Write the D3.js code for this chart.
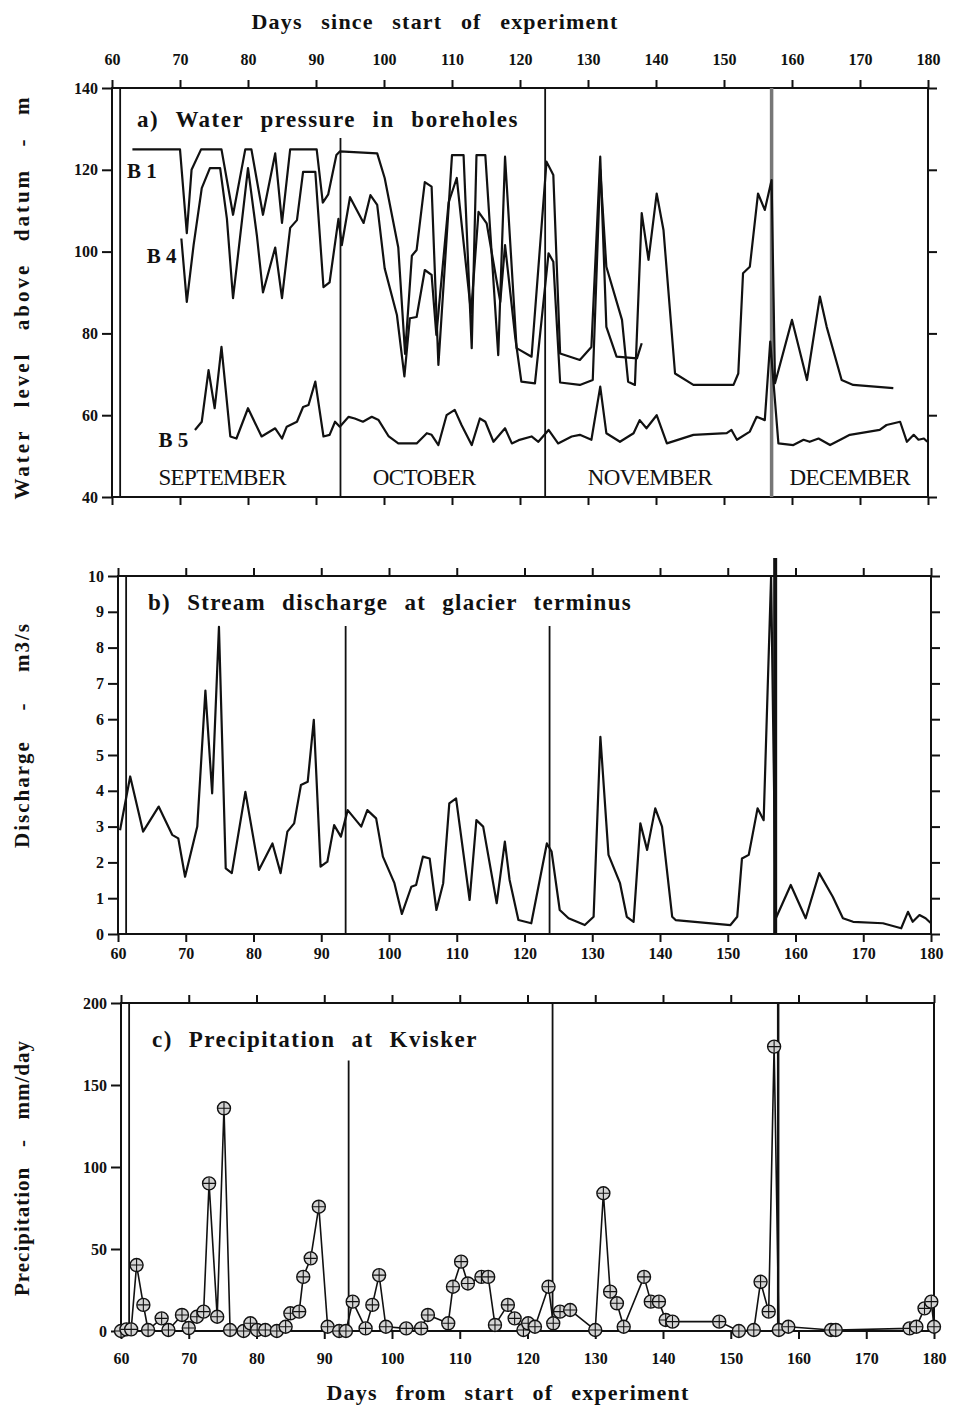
<!DOCTYPE html>
<html>
<head>
<meta charset="utf-8">
<script src="https://cdn.jsdelivr.net/npm/d3@7"></script>
<style>
  body { margin: 0; background: #fff; }
  svg text { font-family: "Liberation Serif", "Times New Roman", serif; fill: #111; }
</style>
</head>
<body>
<svg id="chart" width="955" height="1412"></svg>
<script>
// ---- data: [day, value] ----
const xTicks = [60, 70, 80, 90, 100, 110, 120, 130, 140, 150, 160, 170, 180];
const levelTicks = [40, 60, 80, 100, 120, 140];
const dischargeTicks = [0, 1, 2, 3, 4, 5, 6, 7, 8, 9, 10];
const precipTicks = [0, 50, 100, 150, 200];

const months = [["SEPTEMBER", 76.2], ["OCTOBER", 105.9], ["NOVEMBER", 139.1], ["DECEMBER", 168.5]];
// vertical event lines: day, top value in each panel (null = full height)
const eventDays = [61.2, 93.6, 123.7, 157];
const eventTopA = [null, 127.8, null, null];
const eventTopB = [null, 8.6, 8.6, 10.5];
const eventTopC = [null, 165, null, null];

const b1 = [[63,125],[70,125],[71,104.5],[71.7,120],[73.1,125],[76.1,125],[77.8,109],[79.6,125],[80.5,125],
  [82.2,109],[84,124],[85,107],[86.2,125],[90.1,125],[91,112],[91.8,114],[93,123.6],[93.5,124.5],[99,124],
  [100.1,118],[102.1,101],[103.1,75],[104.1,99],[104.8,100.4],[106,117],[107,115.9],[108,72.3],[110,123.6],
  [111.7,123.6],[112.9,76.4],[113.6,123.6],[114.9,123.6],[116.8,74.7],[117.8,123.2],[119.5,76.4],[121.7,74.3],
  [123.9,122],[124.9,118.7],[125.9,75.1],[128.8,73.5],[130.5,76.7],[131.8,123.2],[132.7,81.6],[134.2,74.3],
  [137.2,73.9],[137.9,77.6]];

const b4 = [[70.2,103.2],[71,87.7],[72,101.6],[73.2,115.5],[74.4,120.4],[75.9,120.4],[76.9,108],[77.8,88.6],
  [80,120.4],[81.3,104],[82.2,90],[84,101],[85,88.6],[86.2,105.8],[87.2,107.7],[88.1,119.5],[89.9,119.5],
  [91.1,91.3],[92,92.5],[93.3,108],[93.8,101.6],[95,113.3],[97,107],[98,113.8],[99,111.4],[100.1,95.9],
  [101.9,84.5],[103,69.5],[103.8,83.7],[104.8,84],[106,95.5],[107,94.3],[107.7,79.6],[109.5,112],[110.7,118],
  [112.8,85],[113.9,109.7],[115.1,106.9],[117.1,87.7],[117.8,101.6],[119.3,79],[120.2,68.2],[122.2,67.8],
  [124.2,99.6],[124.9,97.5],[125.9,68],[128.8,67.4],[130.7,68.6],[131.8,120],[132.7,96.3],[135,83.3],
  [135.9,68.2],[136.9,67.4],[137.9,109.4],[138.9,98],[140.1,114.2],[141.1,105.3],[142.8,70.2],[145.5,67.4],
  [151.4,67.4],[152.1,70.2],[152.8,94.7],[153.8,96.3],[155,114.2],[156,110.2],[157,117.5],[157.5,67.8],
  [160,83.3],[162.2,68.6],[164.1,89],[165.1,81.6],[167.3,68.6],[169,67.4],[174.9,66.6]];

const b5 = [[72.2,56.4],[73.2,58.4],[74.2,71],[75.1,61.7],[76.1,76.7],[77.4,54.8],[78.3,54.3],[80,61.7],
  [82,54.8],[84,56.8],[85,54.3],[85.7,57.2],[87.2,58.4],[88.1,62],[88.9,62.5],[89.9,68.2],[91.1,54.8],[92,55.2],
  [92.8,58.4],[93.5,57.2],[94.8,59.6],[95.7,59.2],[96.9,58.4],[98.2,59.6],[99.2,58.8],[100.7,54.8],[102.1,53.1],
  [104.8,53.1],[106.3,55.6],[107,55.2],[108,52.7],[109.2,60],[110.4,61.3],[111.4,57.6],[112.9,52.7],[114.1,59.2],
  [114.9,58.4],[116.1,53.5],[117.8,56.8],[118.8,53.1],[119.8,53.9],[121.7,54.8],[122.7,53.5],[124.2,56.4],
  [125.6,53.1],[127.6,54.8],[128.8,55.2],[130.5,54],[131.8,67],[132.7,55.6],[134.7,53.5],[136.7,55.6],
  [137.6,58.8],[138.6,56.8],[140.1,60],[141.6,53.1],[145.5,55.2],[150.4,55.6],[151.1,56.4],[151.9,54],
  [153.8,56],[154.8,59.6],[156,58.8],[156.8,78],[158,53.1],[160.2,52.7],[161.7,54],[162.6,53.5],[163.9,54.3],
  [165.6,52.7],[167.1,54],[168.5,55.2],[172.9,56.4],[173.9,57.6],[175.9,58.4],[176.9,53.5],[177.9,55.2],
  [178.6,54],[179.4,54.3],[179.9,53.5]];

const discharge = [[60.3,2.9],[61.8,4.4],[63.7,2.86],[66,3.56],[68,2.77],[68.9,2.67],[69.9,1.6],[71.7,3.0],
  [72.9,6.8],[73.9,3.93],[74.9,8.58],[75.9,1.83],[76.8,1.7],[78.8,3.97],[80.8,1.79],[82.8,2.53],[84,1.7],
  [85,2.86],[86,3.09],[87,4.16],[88,4.25],[88.9,5.98],[89.9,1.88],[90.9,2.02],[91.9,3.04],[92.9,2.72],
  [93.9,3.46],[95.9,3.0],[96.8,3.46],[98.1,3.23],[99.1,2.16],[100.8,1.42],[101.9,0.56],[103.3,1.32],[104,1.37],
  [105,2.16],[106,2.11],[107,0.67],[108,1.42],[108.9,3.65],[109.9,3.79],[111.9,0.95],[112.9,3.18],[113.9,3.0],
  [115.9,0.86],[117.1,2.58],[117.8,1.51],[119.1,0.39],[121,0.3],[123.3,2.53],[124,2.3],[125.2,0.67],
  [126.5,0.44],[128.9,0.25],[130.2,0.48],[131.2,5.51],[132.4,2.21],[134.1,1.42],[135.1,0.48],[136.1,0.34],
  [137.1,3.09],[138.1,2.35],[139.3,3.51],[140.3,3.0],[141.8,0.48],[142.3,0.39],[150.4,0.25],[151.4,0.48],
  [152.1,2.11],[153.1,2.21],[154.4,3.51],[155.3,3.18],[156.4,10],[157.1,0.44],[159.3,1.37],[161.5,0.44],
  [163.5,1.7],[165.5,1.04],[167,0.44],[168.5,0.34],[172.9,0.3],[175.6,0.16],[176.6,0.62],[177.3,0.34],
  [178.3,0.53],[179.2,0.44],[180,0.3]];

const precip = [[60,0],[60.8,1],[61.5,1],[62.3,40.2],[63.3,15.9],[64,0.6],[66,7.7],[67,0.6],[69,9.8],[70,1.8],
  [71.2,8.7],[72.2,11.8],[73,90],[74.2,8.7],[75.2,135.8],[76.1,0.6],[78.1,0],[79.1,4.7],[80.1,0.6],[81.3,0.6],
  [83,0],[84.3,2.6],[85,10.8],[86.3,11.8],[86.9,33],[88,44.3],[89.2,75.8],[90.5,2.6],[92.2,0],[93.2,0],
  [94.2,17.9],[96.1,1.6],[97.1,15.9],[98.1,34.1],[99.1,2.6],[102.1,1.6],[104.3,1.6],[105.3,9.8],[108.3,4.7],
  [109,27],[110.2,42.3],[111.2,29],[113.2,33],[114.2,33],[115.2,3.7],[117.1,15.9],[118.1,7.7],[119.4,0.6],
  [120.1,4.7],[121.1,2.6],[123.1,27],[123.8,4.7],[124.8,11.8],[126.3,12.8],[130,0.6],[131.2,84],[132.2,24],
  [133.2,16.9],[134.2,2.6],[137.2,33],[138.2,17.9],[139.4,17.9],[140.4,6.7],[141.4,5.7],[148.3,5.7],[151.2,0],
  [153.4,0.6],[154.4,30],[155.6,11.8],[156.4,173.4],[157.1,0.6],[158.5,2.6],[164.8,0.6],[165.5,0.6],
  [176.4,1.6],[177.4,2.6],[178.6,13.8],[179.6,17.9],[180,2.6]];

// ---- layout ----
const svg = d3.select("#chart");
const FONT = "'Liberation Serif', 'Times New Roman', serif";

const xA = d3.scaleLinear().domain([60, 180]).range([112, 928]);
const yA = d3.scaleLinear().domain([40, 140]).range([497, 88]);
const xB = d3.scaleLinear().domain([60, 180]).range([118, 931]);
const yB = d3.scaleLinear().domain([0, 10]).range([934, 576]);
const xC = d3.scaleLinear().domain([60, 180]).range([121, 934]);
const yC = d3.scaleLinear().domain([0, 200]).range([1331, 1003]);

function styleAxis(g, showLabels) {
  g.select(".domain").remove();
  g.selectAll(".tick line").attr("stroke", "#111").attr("stroke-width", 2);
  g.selectAll(".tick text")
    .style("font-family", FONT).style("font-size", "16px").style("font-weight", "bold")
    .attr("fill", "#111");
  if (!showLabels) g.selectAll(".tick text").remove();
}

function drawPanel(x, y, yTicks, opts) {
  const g = svg.append("g");
  const [x0, x1] = x.range();
  const [y0, y1] = y.range();

  const top = g.append("g").attr("transform", `translate(0,${y1})`)
    .call(d3.axisTop(x).tickValues(xTicks).tickSize(8).tickSizeOuter(0).tickPadding(opts.topPad || 6));
  styleAxis(top, opts.topLabels);
  const bottom = g.append("g").attr("transform", `translate(0,${y0})`)
    .call(d3.axisBottom(x).tickValues(xTicks).tickSize(8).tickSizeOuter(0).tickPadding(opts.bottomPad || 5));
  styleAxis(bottom, opts.bottomLabels);
  const left = g.append("g").attr("transform", `translate(${x0},0)`)
    .call(d3.axisLeft(y).tickValues(yTicks).tickSize(10).tickSizeOuter(0).tickPadding(4));
  styleAxis(left, true);
  if (opts.rightTicks) {
    const right = g.append("g").attr("transform", `translate(${x1},0)`)
      .call(d3.axisRight(y).tickValues(yTicks).tickSize(9).tickSizeOuter(0));
    styleAxis(right, false);
  }

  g.append("rect")
    .attr("x", x0).attr("y", y1).attr("width", x1 - x0).attr("height", y0 - y1)
    .attr("fill", "none").attr("stroke", "#111").attr("stroke-width", 2);

  // event lines
  eventDays.forEach((d, i) => {
    const t = opts.eventTop[i];
    const last = i === eventDays.length - 1;
    g.append("line")
      .attr("x1", x(d)).attr("x2", x(d))
      .attr("y1", t == null ? y1 : y(t)).attr("y2", y0)
      .attr("stroke", last ? opts.lastColor : "#111")
      .attr("stroke-width", last ? opts.lastWidth : 1.8);
  });
  return g;
}

function addLine(g, x, y, data, width) {
  g.append("path")
    .datum(data)
    .attr("fill", "none")
    .attr("stroke", "#111")
    .attr("stroke-width", width)
    .attr("stroke-linejoin", "round")
    .attr("d", d3.line().x(d => x(d[0])).y(d => y(d[1])));
}

// letter-space the label, then widen the word gaps so it covers the same span as in the figure
function fitWords(t, len, ls) {
  t.style("letter-spacing", ls + "px");
  const str = t.text();
  const spaces = (str.match(/ /g) || []).length;
  const natural = t.node().getComputedTextLength();
  if (spaces > 0 && natural < len) t.style("word-spacing", ((len - natural) / spaces) + "px");
}

function boldText(x, y, str, size, anchor, len, ls) {
  const t = svg.append("text")
    .attr("x", x).attr("y", y)
    .attr("text-anchor", anchor)
    .style("font-size", size + "px").style("font-weight", "bold")
    .text(str);
  if (len) fitWords(t, len, ls || 0);
  return t;
}

function rotText(cx, cy, str, len, ls) {
  const t = svg.append("text")
    .attr("transform", `translate(${cx},${cy}) rotate(-90)`)
    .attr("text-anchor", "middle")
    .style("font-size", "21px").style("font-weight", "bold")
    .text(str);
  fitWords(t, len, ls);
}

// ---- panel a ----
const gA = drawPanel(xA, yA, levelTicks,
  { topLabels: true, bottomLabels: false, rightTicks: true, topPad: 15,
    eventTop: eventTopA, lastColor: "#777", lastWidth: 3.5 });
addLine(gA, xA, yA, b1, 2.2);
addLine(gA, xA, yA, b4, 2.2);
addLine(gA, xA, yA, b5, 2.2);

boldText(435, 29, "Days since start of experiment", 22, "middle", 367, 1.2);
boldText(137, 127, "a) Water pressure in boreholes", 23, "start", 382, 1.5);
boldText(xA(66.6), yA(118), "B 1", 21, "end");
boldText(xA(69.5), yA(97.2), "B 4", 21, "end");
boldText(xA(71.2), yA(52.3), "B 5", 21, "end");
months.forEach(m => {
  svg.append("text")
    .attr("x", xA(m[1])).attr("y", 485)
    .attr("text-anchor", "middle")
    .style("font-size", "23px")
    .style("letter-spacing", "-0.6px")
    .text(m[0]);
});
rotText(29, 297, "Water level above datum - m", 405, 3);

// ---- panel b ----
const gB = drawPanel(xB, yB, dischargeTicks,
  { topLabels: false, bottomLabels: true, rightTicks: true, bottomPad: 6,
    eventTop: eventTopB, lastColor: "#111", lastWidth: 4 });
addLine(gB, xB, yB, discharge, 2.2);
boldText(148, 610, "b) Stream discharge at glacier terminus", 23, "start", 484, 1.3);
rotText(29, 735, "Discharge - m3/s", 226, 2);

// ---- panel c ----
const gC = drawPanel(xC, yC, precipTicks,
  { topLabels: false, bottomLabels: true, rightTicks: false, bottomPad: 14,
    eventTop: eventTopC, lastColor: "#111", lastWidth: 2.5 });
addLine(gC, xC, yC, precip, 1.6);
const marks = gC.selectAll("g.mark").data(precip).join("g")
  .attr("class", "mark")
  .attr("transform", d => `translate(${xC(d[0])},${yC(d[1])})`);
marks.append("circle").attr("r", 6.5)
  .attr("fill", "#d4d4d4").attr("stroke", "#111").attr("stroke-width", 1.4);
marks.append("path").attr("d", "M-6,0H6M0,-6V6")
  .attr("stroke", "#111").attr("stroke-width", 1.1);
boldText(152, 1047, "c) Precipitation at Kvisker", 23, "start", 326, 1.5);
rotText(29, 1168, "Precipitation - mm/day", 256, 1);
boldText(508, 1400, "Days from start of experiment", 22, "middle", 363, 1.2);
</script>
</body>
</html>
